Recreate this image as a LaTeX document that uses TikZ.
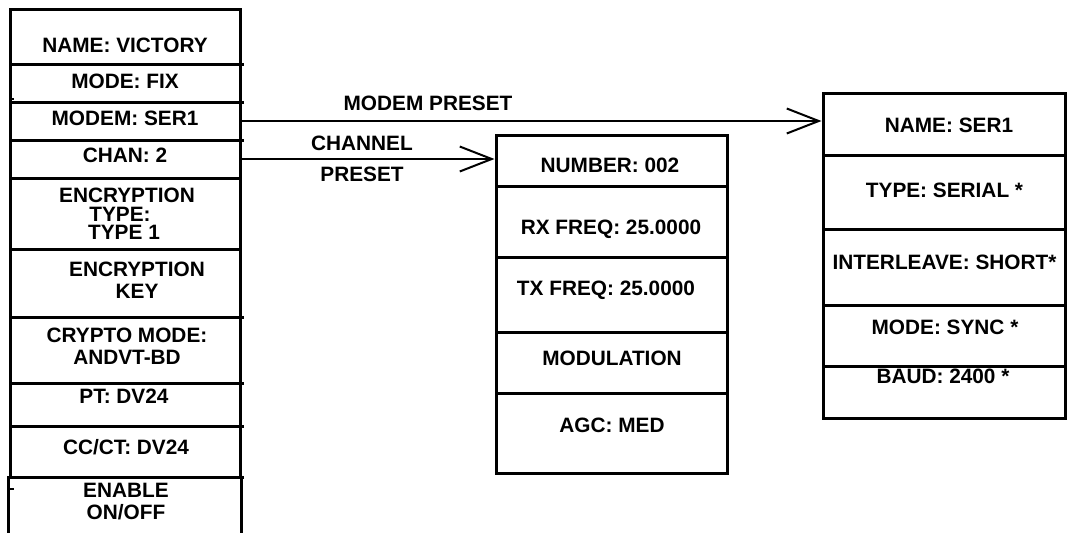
\documentclass[tikz,border=0pt]{standalone}
\usepackage{fontspec}
\setmainfont{Liberation Sans}
\usetikzlibrary{arrows.meta}
\tikzset{
  cell/.style={draw, line width=3pt, rectangle, inner sep=0pt},
  lcell/.style={cell, minimum width=230pt},
  mcell/.style={cell, minimum width=231pt},
  rcell/.style={cell, minimum width=242pt},
  txt/.style={anchor=base, inner sep=0pt, font=\fontsize{20.8}{22}\selectfont\bfseries},
  link/.style={line width=2pt, -{Straight Barb[length=32pt,width=25pt,line width=2pt]}},
  tick/.style={line width=3pt},
}
\begin{document}
\begin{tikzpicture}[x=1pt,y=-1pt]
\useasboundingbox (0,0) rectangle (1069,533);
% ---- left column ----
\node[lcell, minimum height=55pt] (lname)  at (125,36.5) {};
\node[lcell, minimum height=38pt] (lmode)  at (125,83) {};
\node[lcell, minimum height=38pt] (lmodem) at (125,121) {};
\node[lcell, minimum height=38pt] (lchan)  at (125,159) {};
\node[lcell, minimum height=71pt] (lenct)  at (125,213.5) {};
\node[lcell, minimum height=68pt] (lenck)  at (125,283) {};
\node[lcell, minimum height=66pt] (lcryp)  at (125,350) {};
\node[lcell, minimum height=43pt] (lpt)    at (125,404.5) {};
\node[lcell, minimum height=51pt] (lcc)    at (125,451.5) {};
\node[lcell, draw=none, minimum height=56pt] (lena) at (125,505) {};
\draw[tick] (lena.north west) -- (lena.south west);
\draw[tick] (lena.north east) -- (lena.south east);
\foreach \yy in {64,102,140,317,383,426,477}
  \draw[tick] (240,\yy) -- (243.5,\yy);
\draw[line width=1.2pt] (10,99) -- (14,99);
\draw[line width=1.2pt] (10,489) -- (14,489);
\node[txt] (t1)  at (125,52.4)  {NAME: VICTORY};
\node[txt] (t2)  at (125,88.4)  {MODE: FIX};
\node[txt] (t3)  at (125,125.4) {MODEM: SER1};
\node[txt] (t4)  at (125,162.4) {CHAN: 2};
\node[txt] (t5a) at (127,202.4) {ENCRYPTION};
\node[txt] (t5b) at (120,221.4) {TYPE:};
\node[txt] (t5c) at (124,239.4) {TYPE 1};
\node[txt] (t6a) at (137,276.4) {ENCRYPTION};
\node[txt] (t6b) at (137,298.4) {KEY};
\node[txt] (t7a) at (127,342.4) {CRYPTO MODE:};
\node[txt] (t7b) at (127,364.4) {ANDVT-BD};
\node[txt] (t8)  at (124,403.4) {PT: DV24};
\node[txt] (t9)  at (126,454.4) {CC/CT: DV24};
\node[txt] (t10a) at (126,497.4) {ENABLE};
\node[txt] (t10b) at (126,519.4) {ON/OFF};
% ---- middle column ----
\node[mcell, minimum height=51pt] (mnum) at (611.5,160.5) {};
\node[mcell, minimum height=71pt] (mrx)  at (611.5,221.5) {};
\node[mcell, minimum height=75pt] (mtx)  at (611.5,294.5) {};
\node[mcell, minimum height=61pt] (mmod) at (611.5,362.5) {};
\node[mcell, minimum height=80pt] (magc) at (611.5,433) {};
\node[txt] (u1) at (610,172.4) {NUMBER: 002};
\node[txt] (u2) at (611,234.4) {RX FREQ: 25.0000};
\node[txt] (u3) at (606,295.4) {TX FREQ: 25.0000};
\node[txt] (u4) at (612,365.4) {MODULATION};
\node[txt] (u5) at (612,432.4) {AGC: MED};
% ---- right column ----
\node[rcell, minimum height=62pt] (rname) at (944,124) {};
\node[rcell, minimum height=74pt] (rtype) at (944,192) {};
\node[rcell, minimum height=76pt] (rint)  at (944,267) {};
\node[rcell, minimum height=61pt] (rmode) at (944,335.5) {};
\node[rcell, minimum height=52pt] (rbaud) at (944,392) {};
\node[txt] (v1) at (949,132.4) {NAME: SER1};
\node[txt] (v2) at (944.5,197.4) {TYPE: SERIAL *};
\node[txt] (v3) at (944.5,269.4) {INTERLEAVE: SHORT*};
\node[txt] (v4) at (945,334.4) {MODE: SYNC *};
\node[txt] (v5) at (943,383) {BAUD: 2400 *};
% ---- connectors ----
\draw[link] (lmodem.east) -- (lmodem.east -| rname.west);
\draw[link] (lchan.east) -- (lchan.east -| mnum.west);
\node[txt] (lab1) at (428,110.4) {MODEM PRESET};
\node[txt] (lab2) at (362,150.4) {CHANNEL};
\node[txt] (lab3) at (362,181.4) {PRESET};
\end{tikzpicture}
\end{document}
